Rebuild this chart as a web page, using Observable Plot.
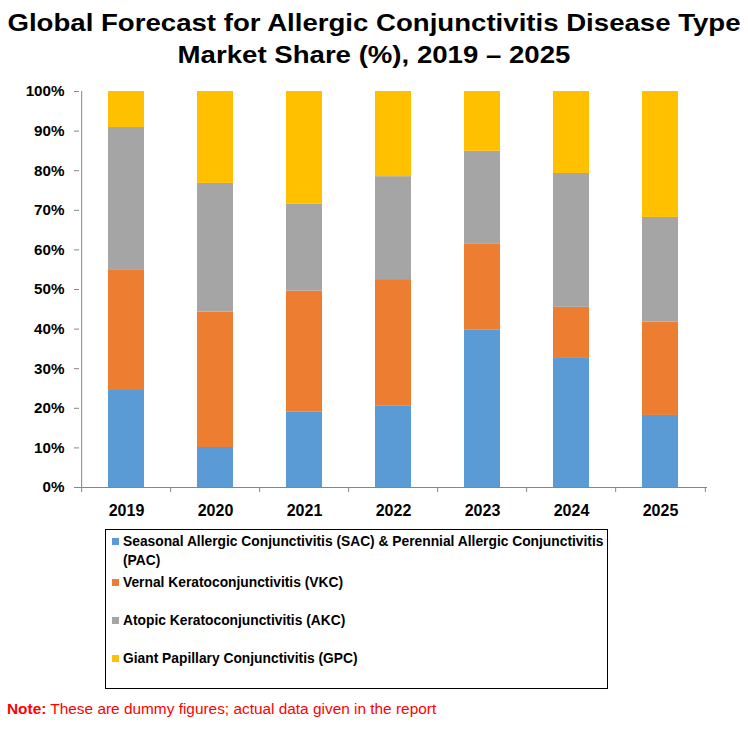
<!DOCTYPE html>
<html>
<head>
<meta charset="utf-8">
<script src="https://cdn.jsdelivr.net/npm/d3@7"></script>
<script src="https://cdn.jsdelivr.net/npm/@observablehq/plot@0.6"></script>
<style>
  body { margin: 0; background: #fff; }
  #wrap { position: relative; width: 748px; height: 732px; font-family: "Liberation Sans", Arial, sans-serif; color: #000; }
  #title { position: absolute; left: 0; top: 7px; width: 748px; text-align: center; font-weight: bold; font-size: 24px; line-height: 32px; transform: scaleX(1.15); transform-origin: 374px 0; }
  #chart { position: absolute; left: 0; top: 80px; }
  #legend { position: absolute; left: 105px; top: 529px; width: 501px; height: 156px; border: 1px solid #000; padding-top: 2px; box-sizing: content-box; }
  #legend .item { position: relative; padding-left: 17px; font-weight: bold; font-size: 13.8px; line-height: 19px; white-space: nowrap; margin-bottom: 19px; }
  #legend .item:first-child { margin-bottom: 3px; }
  #legend .sw { position: absolute; left: 6px; top: 6px; width: 7px; height: 7px; }
  #note { position: absolute; left: 7px; top: 701px; font-size: 15.4px; line-height: 16px; color: #FF0000; white-space: nowrap; }
</style>
</head>
<body>
<div id="wrap">
  <div id="title">Global Forecast for Allergic Conjunctivitis Disease Type<br>Market Share (%), 2019 – 2025</div>
  <div id="chart"></div>
  <div id="legend"></div>
  <div id="note"><b>Note:</b> These are dummy figures; actual data given in the report</div>
</div>
<script>
const years = ["2019", "2020", "2021", "2022", "2023", "2024", "2025"];
const types = [
  "Seasonal Allergic Conjunctivitis (SAC) & Perennial Allergic Conjunctivitis (PAC)",
  "Vernal Keratoconjunctivitis (VKC)",
  "Atopic Keratoconjunctivitis (AKC)",
  "Giant Papillary Conjunctivitis (GPC)"
];
const colors = ["#5B9BD5", "#ED7D31", "#A5A5A5", "#FFC000"];
const sac = [24.5, 10.1, 19.0, 20.5, 39.7, 32.8, 18.2];
const vkc = [30.5, 34.2, 30.6, 32.0, 21.7, 12.7, 23.6];
const akc = [35.9, 32.5, 21.9, 26.0, 23.5, 33.8, 26.4];
const gpc = [9.1, 23.2, 28.5, 21.5, 15.1, 20.7, 31.8];
const yTicks = [0, 10, 20, 30, 40, 50, 60, 70, 80, 90, 100];

const series = [sac, vkc, akc, gpc];
const data = [];
years.forEach((yr, i) => {
  types.forEach((t, k) => data.push({year: yr, type: t, value: series[k][i]}));
});

const W = 748, H = 440, mL = 79, mR = 41, mT = 11, mB = 33;
const step = (W - mL - mR) / years.length;
const axisGray = "#868686";

const plot = Plot.plot({
  width: W,
  height: H,
  marginLeft: mL,
  marginRight: mR,
  marginTop: mT,
  marginBottom: mB,
  style: {fontFamily: "'Liberation Sans', Arial, sans-serif", fontSize: "15px", fontWeight: "bold", color: "#000", background: "#fff"},
  x: {domain: years, paddingInner: 0.6, paddingOuter: 0.3, label: null},
  y: {domain: [0, 100], label: null},
  color: {domain: types, range: colors},
  marks: [
    Plot.barY(data, {x: "year", y: "value", fill: "type"}),
    Plot.ruleY([0], {stroke: axisGray}),
    Plot.ruleX([years[0]], {dx: -step / 2, stroke: axisGray}),
    Plot.ruleX(years, {x: d => d, y1: 0, y2: 0, insetBottom: -5, dx: -step / 2, stroke: axisGray}),
    Plot.ruleX([years[years.length - 1]], {y1: 0, y2: 0, insetBottom: -5, dx: step / 2, stroke: axisGray}),
    Plot.axisY({ticks: yTicks, tickFormat: d => d + "%", tickSize: 5, tickPadding: 10, stroke: axisGray, fill: "#000", fontSize: 15.2, fontWeight: "bold", label: null}),
    Plot.axisX({tickSize: 0, tickPadding: 17, fill: "#000", fontSize: 16, fontWeight: "bold", label: null})
  ]
});
document.getElementById("chart").appendChild(plot);

const legend = document.getElementById("legend");
types.forEach((t, k) => {
  const item = document.createElement("div");
  item.className = "item";
  const sw = document.createElement("span");
  sw.className = "sw";
  sw.style.background = colors[k];
  item.appendChild(sw);
  if (k === 0) {
    const idx = t.lastIndexOf(" (PAC)");
    item.appendChild(document.createTextNode(t.slice(0, idx)));
    item.appendChild(document.createElement("br"));
    item.appendChild(document.createTextNode(t.slice(idx + 1)));
  } else {
    item.appendChild(document.createTextNode(t));
  }
  legend.appendChild(item);
});
</script>
</body>
</html>
